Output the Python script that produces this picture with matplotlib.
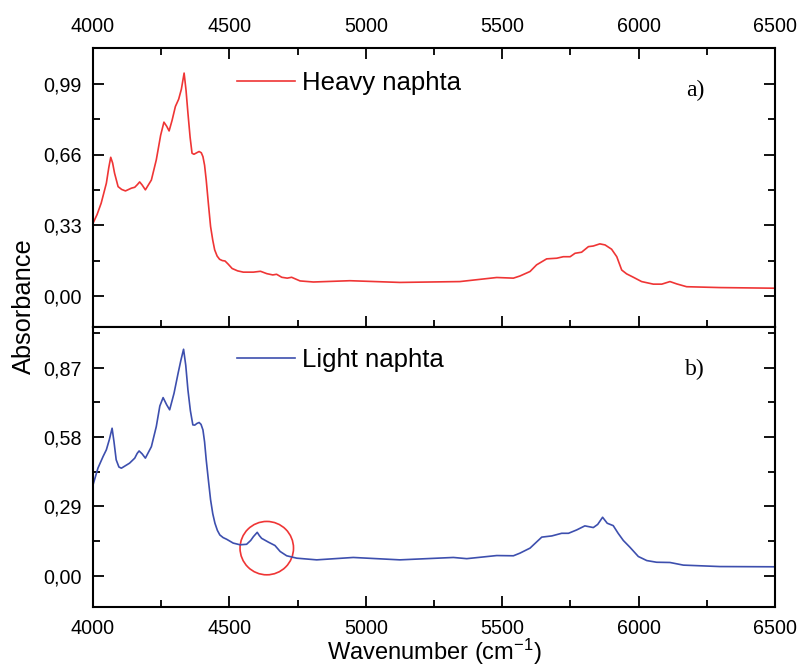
import matplotlib
matplotlib.use("Agg")
import matplotlib.pyplot as plt
from matplotlib.ticker import FixedLocator, MultipleLocator
from matplotlib.patches import Ellipse

# ---------------- data ----------------
heavy_w = [4000, 4015, 4030, 4049, 4058, 4065, 4072, 4079, 4092, 4105, 4119, 4141, 4153, 4163,
           4171, 4180, 4192, 4214, 4232, 4248, 4260, 4270, 4279, 4290, 4302, 4314, 4324, 4334,
           4341, 4348, 4356, 4363, 4370, 4380, 4389, 4397, 4403, 4409, 4415, 4423, 4431, 4439,
           4446, 4455, 4464, 4474, 4484, 4495, 4510, 4530, 4551, 4588, 4614, 4637, 4659,
           4673, 4692, 4712, 4728, 4759, 4808, 4942, 5125, 5345, 5480, 5541, 5565,
           5602, 5626, 5663, 5700, 5724, 5749, 5767, 5791, 5816, 5834, 5858, 5877,
           5901, 5920, 5938, 5956, 5981, 6011, 6054, 6085, 6115, 6140, 6176, 6298, 6500]
heavy_a = [0.339, 0.380, 0.433, 0.526, 0.600, 0.647, 0.620, 0.573, 0.510, 0.497, 0.490, 0.503, 0.507, 0.520,
           0.532, 0.518, 0.495, 0.541, 0.635, 0.750, 0.811, 0.792, 0.770, 0.820, 0.884, 0.918, 0.965, 1.040,
           0.960, 0.853, 0.740, 0.666, 0.661, 0.668, 0.674, 0.668, 0.650, 0.610, 0.541, 0.430, 0.324, 0.260,
           0.215, 0.186, 0.171, 0.165, 0.163, 0.149, 0.128, 0.117, 0.111, 0.111, 0.115, 0.104, 0.098,
           0.101, 0.087, 0.083, 0.087, 0.070, 0.065, 0.071, 0.063, 0.067, 0.086, 0.083, 0.093,
           0.114, 0.145, 0.173, 0.176, 0.183, 0.183, 0.199, 0.204, 0.230, 0.233, 0.243, 0.238,
           0.218, 0.183, 0.121, 0.103, 0.087, 0.067, 0.055, 0.055, 0.067, 0.056, 0.043, 0.039, 0.036]

light_w = [4000, 4018, 4037, 4049, 4060, 4070, 4077, 4085, 4095, 4104, 4134, 4153, 4162, 4169,
           4180, 4192, 4214, 4232, 4245, 4257, 4270, 4281, 4297, 4312, 4322, 4332, 4340, 4348,
           4357, 4366, 4373, 4381, 4389, 4396, 4403, 4409, 4415, 4423, 4431, 4439, 4447, 4456,
           4465, 4477, 4490, 4514, 4539, 4563, 4578, 4588, 4602, 4610, 4618, 4643, 4667,
           4686, 4710, 4747, 4820, 4954, 5125, 5321, 5370, 5480, 5541, 5565, 5602,
           5645, 5682, 5718, 5743, 5773, 5803, 5834, 5850, 5868, 5885, 5907, 5925, 5944,
           5968, 5999, 6030, 6066, 6115, 6164, 6298, 6500]
light_a = [0.380, 0.450, 0.499, 0.527, 0.570, 0.617, 0.560, 0.485, 0.455, 0.450, 0.471, 0.492, 0.512, 0.522,
           0.510, 0.492, 0.540, 0.624, 0.710, 0.745, 0.715, 0.694, 0.763, 0.847, 0.900, 0.947, 0.880, 0.777,
           0.690, 0.631, 0.630, 0.637, 0.641, 0.633, 0.610, 0.560, 0.485, 0.400, 0.318, 0.260, 0.220, 0.190,
           0.171, 0.160, 0.153, 0.137, 0.130, 0.132, 0.148, 0.164, 0.182, 0.168, 0.157, 0.141, 0.127,
           0.102, 0.084, 0.074, 0.067, 0.077, 0.067, 0.077, 0.072, 0.085, 0.084, 0.095, 0.116,
           0.162, 0.167, 0.178, 0.178, 0.192, 0.209, 0.202, 0.215, 0.245, 0.220, 0.210, 0.178, 0.148,
           0.120, 0.081, 0.064, 0.057, 0.056, 0.045, 0.039, 0.038]

x_ticks = [4000, 4500, 5000, 5500, 6000, 6500]
x_ticklabels = ["4000", "4500", "5000", "5500", "6000", "6500"]
heavy_yticks = [0.00, 0.33, 0.66, 0.99]
heavy_yticklabels = ["0,00", "0,33", "0,66", "0,99"]
light_yticks = [0.00, 0.29, 0.58, 0.87]
light_yticklabels = ["0,00", "0,29", "0,58", "0,87"]

heavy_label = "Heavy naphta"
light_label = "Light naphta"
circle_center = (4637, 0.116)

# ---------------- figure ----------------
plt.rcParams['font.family'] = ['Liberation Sans', 'DejaVu Sans']
plt.rcParams['mathtext.fontset'] = 'custom'
plt.rcParams['mathtext.rm'] = 'Liberation Sans'
plt.rcParams['mathtext.it'] = 'Liberation Sans'
RED = '#ef3535'
BLUE = '#3d4fae'

fig = plt.figure(figsize=(8.01, 6.68), dpi=100)
ax1 = fig.add_axes([93/801, 1-327/668, 682/801, 279/668])
ax2 = fig.add_axes([93/801, 1-607/668, 682/801, 280/668])

ax1.plot(heavy_w, heavy_a, color=RED, lw=1.2, label=heavy_label)
ax2.plot(light_w, light_a, color=BLUE, lw=1.2, label=light_label)

ax1.set_ylim(-0.145, 1.157)
ax2.set_ylim(-0.13, 1.04)

for ax in (ax1, ax2):
    ax.set_xlim(4000, 6500)
    for s in ax.spines.values():
        s.set_linewidth(1.5)

ax1.set_xticks(x_ticks)
ax1.set_xticklabels(x_ticklabels)
ax2.set_xticks(x_ticks)
ax2.set_xticklabels(x_ticklabels)
for ax in (ax1, ax2):
    ax.xaxis.set_minor_locator(MultipleLocator(250))

ax1.set_yticks(heavy_yticks)
ax1.set_yticklabels(heavy_yticklabels)
ax1.yaxis.set_minor_locator(MultipleLocator(0.165))
ax2.set_yticks(light_yticks)
ax2.set_yticklabels(light_yticklabels)
ax2.yaxis.set_minor_locator(MultipleLocator(0.145))

ax1.tick_params(axis='both', which='both', direction='in', top=True, bottom=True,
                left=True, right=True, labeltop=True, labelbottom=False,
                labelsize=14.2, width=1.3)
ax2.tick_params(axis='both', which='both', direction='in', top=False, bottom=True,
                left=True, right=True, labeltop=False, labelbottom=True,
                labelsize=14.2, width=1.3)
for ax in (ax1, ax2):
    ax.tick_params(which='major', length=8)
    ax.tick_params(which='minor', length=5)
    ax.tick_params(axis='x', pad=8.5)
    ax.tick_params(axis='y', pad=8)

ax1.legend(loc='center left', bbox_to_anchor=(0.211, 0.875), frameon=False,
           fontsize=18.5, handlelength=2.25, handletextpad=0.3,
           borderpad=0, borderaxespad=0)
ax2.legend(loc='center left', bbox_to_anchor=(0.211, 0.882), frameon=False,
           fontsize=18.5, handlelength=2.25, handletextpad=0.3,
           borderpad=0, borderaxespad=0)

ax1.text(0.883, 0.848, "a)", transform=ax1.transAxes, ha='center', va='center',
         fontsize=17, family=['Liberation Serif', 'DejaVu Serif'])
ax2.text(0.882, 0.85, "b)", transform=ax2.transAxes, ha='center', va='center',
         fontsize=17, family=['Liberation Serif', 'DejaVu Serif'])

ell = Ellipse(circle_center, width=196, height=0.223, fill=False,
              edgecolor=RED, lw=1.2)
ax2.add_patch(ell)

fig.text(434/801, 1-660/668, "Wavenumber (cm$^{\\mathregular{-1}}$)", ha='center',
         va='baseline', fontsize=17)
fig.text(24/801, 1-306/668, "Absorbance", rotation=90, ha='center', va='center',
         fontsize=18.3)

fig.savefig("out.png", dpi=100)
